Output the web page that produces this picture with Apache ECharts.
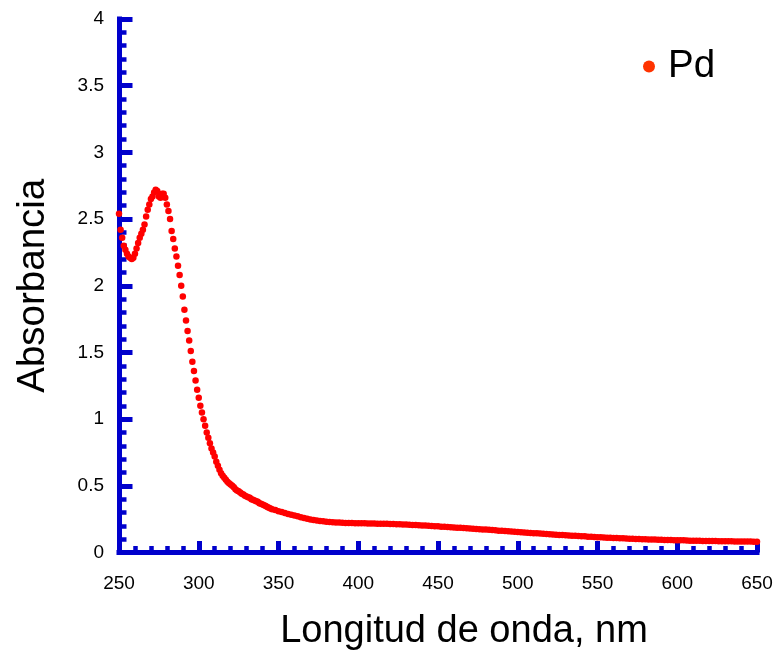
<!DOCTYPE html>
<html>
<head>
<meta charset="utf-8">
<script src="https://cdn.jsdelivr.net/npm/echarts@6/dist/echarts.min.js"></script>
<style>
html,body{margin:0;padding:0;background:#fff;}
#chart{width:779px;height:656px;}
</style>
</head>
<body>
<div id="chart"></div>
<script>
// Wavelength (nm)
const wavelength = [
250,251,252,253,254,255,256,257,258,259,260,261,262,263,264,265,266,267,268,269,
270,271,272,273,274,275,276,277,278,279,280,281,282,283,284,285,286,287,288,289,
290,291,292,293,294,295,296,297,298,299,300,301,302,303,304,305,306,307,308,309,
310,311,312,313,314,315,316,317,318,319,320,321,322,323,324,325,326,327,328,329,
330,331,332,333,334,335,336,337,338,339,340,341,342,343,344,345,
346,348,350,352,354,356,358,360,362,364,366,368,370,372,374,376,378,380,382,384,
386,388,390,392,394,396,398,400,
402,404,406,408,410,412,414,416,418,420,422,424,426,428,430,432,434,436,438,440,442,444,446,448,450,
452,454,456,458,460,462,464,466,468,470,472,474,476,478,480,482,484,486,488,490,492,494,496,498,500,
502,504,506,508,510,512,514,516,518,520,522,524,526,528,530,532,534,536,538,540,542,544,546,548,550,
552,554,556,558,560,562,564,566,568,570,572,574,576,578,580,582,584,586,588,590,592,594,596,598,600,
602,604,606,608,610,612,614,616,618,620,622,624,626,628,630,632,634,636,638,640,642,644,646,648,650
];
// Absorbance (Pd)
const absorbancePd = [
2.54,2.42,2.36,2.30,2.27,2.24,2.22,2.21,2.20,2.21,2.24,2.28,2.32,2.36,2.39,2.42,2.46,2.52,2.57,2.61,
2.65,2.67,2.70,2.72,2.71,2.67,2.66,2.69,2.69,2.66,2.61,2.56,2.50,2.41,2.35,2.28,2.22,2.15,2.08,2.00,
1.92,1.82,1.74,1.66,1.59,1.51,1.43,1.36,1.29,1.22,1.16,1.10,1.05,1.00,0.95,0.90,0.86,0.82,0.78,0.75,
0.72,0.68,0.65,0.62,0.595,0.575,0.56,0.545,0.53,0.52,0.51,0.50,0.49,0.475,0.465,0.46,0.45,0.44,0.435,0.425,
0.42,0.415,0.41,0.40,0.395,0.39,0.385,0.38,0.37,0.365,0.36,0.355,0.348,0.342,0.336,0.33,
0.325,0.318,0.31,0.303,0.296,0.289,0.283,0.277,0.271,0.265,0.259,0.253,0.248,0.244,0.240,0.237,0.234,0.231,0.229,0.227,
0.225,0.224,0.223,0.222,0.221,0.221,0.220,0.220,
0.219,0.219,0.218,0.217,0.217,0.216,0.216,0.215,0.215,0.214,0.213,0.212,0.211,0.210,0.209,0.208,0.207,0.206,0.205,0.203,0.202,0.200,0.199,0.197,0.196,
0.194,0.193,0.191,0.190,0.188,0.186,0.185,0.183,0.182,0.180,0.178,0.177,0.175,0.173,0.172,0.170,0.168,0.166,0.164,0.163,0.161,0.159,0.157,0.156,0.154,
0.152,0.150,0.149,0.147,0.145,0.144,0.142,0.140,0.139,0.137,0.135,0.134,0.132,0.131,0.129,0.128,0.126,0.125,0.123,0.122,0.121,0.119,0.118,0.116,0.115,
0.114,0.113,0.111,0.110,0.109,0.108,0.107,0.106,0.105,0.104,0.103,0.102,0.101,0.100,0.099,0.098,0.097,0.097,0.096,0.095,0.094,0.094,0.093,0.092,0.092,
0.091,0.091,0.090,0.089,0.089,0.088,0.088,0.087,0.087,0.087,0.086,0.086,0.085,0.085,0.085,0.084,0.084,0.083,0.083,0.083,0.082,0.082,0.082,0.081,0.081
];
const seriesName = 'Pd';
const xTitle = 'Longitud de onda, nm';
const yTitle = 'Absorbancia';

const axisBlue = '#0000CC';
const font = 'Arial, "Liberation Sans", Helvetica, sans-serif';
const chart = echarts.init(document.getElementById('chart'), null, {renderer: 'canvas'});
const points = wavelength.map((w, i) => [w, absorbancePd[i]]);

chart.setOption({
  animation: false,
  backgroundColor: '#ffffff',
  grid: {left: 119, right: 22, top: 19, bottom: 103.5, containLabel: false, outerBoundsMode: 'none'},
  legend: {
    show: true,
    left: 643, top: 47,
    padding: 0,
    icon: 'circle',
    itemWidth: 12, itemHeight: 12,
    data: [{name: seriesName, itemStyle: {color: '#FF3300'}}],
    textStyle: {fontFamily: font, fontSize: 38.5, color: '#000', padding: [0, 0, 0, 8]}
  },
  xAxis: {
    type: 'value', min: 250, max: 650, interval: 50,
    name: xTitle, nameLocation: 'middle', nameGap: 60,
    nameTextStyle: {fontFamily: font, fontSize: 38, color: '#000', padding: [0, 0, 0, 52]},
    axisLine: {show: true, onZero: false, lineStyle: {color: axisBlue, width: 5, cap: 'square'}},
    axisTick: {show: true, inside: true, length: 11.5, lineStyle: {color: axisBlue, width: 5}},
    minorTick: {show: true, splitNumber: 5, length: 6.5, lineStyle: {color: axisBlue, width: 4.5}},
    splitLine: {show: false},
    axisLabel: {fontFamily: font, fontSize: 19, color: '#000', margin: 22}
  },
  yAxis: {
    type: 'value', min: 0, max: 4, interval: 0.5,
    name: yTitle, nameLocation: 'middle', nameGap: 66,
    nameTextStyle: {fontFamily: font, fontSize: 38.5, color: '#000'},
    axisLine: {show: true, onZero: false, lineStyle: {color: axisBlue, width: 5, cap: 'square'}},
    axisTick: {show: true, inside: true, length: 13.5, lineStyle: {color: axisBlue, width: 5}},
    minorTick: {show: true, splitNumber: 5, length: 7.5, lineStyle: {color: axisBlue, width: 4.5}},
    splitLine: {show: false},
    axisLabel: {fontFamily: font, fontSize: 19, color: '#000', margin: 15}
  },
  series: [{
    name: seriesName,
    type: 'scatter',
    symbol: 'circle',
    symbolSize: 6.5,
    clip: false,
    itemStyle: {color: '#FF0000', opacity: 1},
    data: points,
    z: 5
  }]
});
</script>
</body>
</html>
